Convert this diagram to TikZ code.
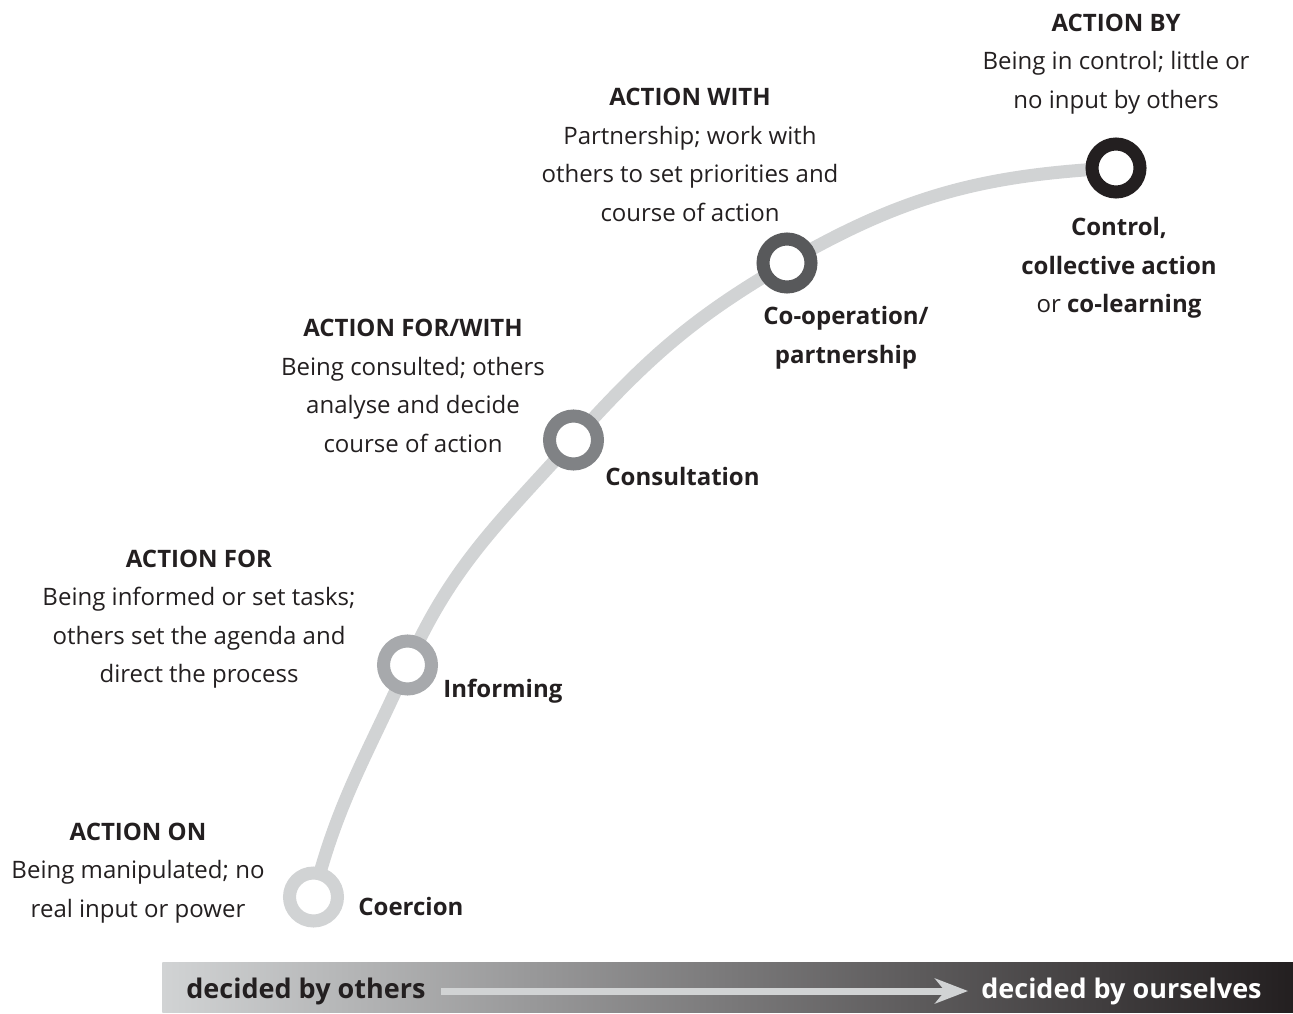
\documentclass[tikz,border=0pt]{standalone}
\usepackage{fontspec}
\setmainfont{Open Sans}
\usetikzlibrary{arrows.meta,backgrounds}
\definecolor{ink}{HTML}{231F20}
\definecolor{pale}{HTML}{D1D3D4}
\definecolor{greyA}{HTML}{A7A9AC}
\definecolor{greyB}{HTML}{808285}
\definecolor{greyC}{HTML}{58595B}
\tikzset{%
  ring/.style     = {circle, draw, line width=6.5pt, fill=white,%
                     minimum size=24pt, inner sep=0pt},%
  block/.style    = {align=center, text=ink, inner sep=0pt,%
                     font=\fontsize{12}{19.25}\selectfont},%
  stage/.style    = {block, font=\bfseries\fontsize{12}{19.25}\selectfont},%
  barlabel/.style = {inner sep=0pt, font=\bfseries\fontsize{13.5}{16}\selectfont}%
}

\begin{document}
\begin{tikzpicture}[x=0.5pt,y=0.5pt]%
	\useasboundingbox (0,0) rectangle (1293,1013);
	% the ladder rings
	\node (coercion)  at (313.5,116) [ring,draw=pale] {};
	\node (informing) at (407.5,348) [ring,draw=greyA] {};
	\node (consult)   at (573.5,573) [ring,draw=greyB] {};
	\node (coop)      at (787,750)   [ring,draw=greyC] {};
	\node (control)   at (1116,845)  [ring,draw=ink] {};
	\begin{scope}[on background layer]
		\draw [pale,line width=6.5pt] (coercion.center)
			to[out=76,in=246] (informing.center)
			to[out=66,in=228] (consult.center)
			to[out=48,in=210] (coop.center)
			to[out=30,in=183] (control.center);
	\end{scope}
	% labels next to the rings
	\node (coercion-l)  at (358,107) [stage,anchor=west] {Coercion};
	\node (informing-l) at (443,322) [stage,anchor=west] {Informing};
	\node (consult-l)   at (605,537) [stage,anchor=west] {Consultation};
	\node (coop-l)      at (846,675) [stage] {Co-operation/\\partnership};
	\node (control-l)   at (1119,745) [block] {\textbf{Control,}\\\textbf{collective action}\\or \textbf{co-learning}};
	% what each step means
	\node (on)      at (138,140)  [block] {\textbf{ACTION ON}\\Being manipulated; no\\real input or power};
	\node (for)     at (199,394)  [block] {\textbf{ACTION FOR}\\Being informed or set tasks;\\others set the agenda and\\direct the process};
	\node (forwith) at (413,627)  [block] {\textbf{ACTION FOR/WITH}\\Being consulted; others\\analyse and decide\\course of action};
	\node (with)    at (690,858)  [block] {\textbf{ACTION WITH}\\Partnership; work with\\others to set priorities and\\course of action};
	\node (by)      at (1116,949) [block] {\textbf{ACTION BY}\\Being in control; little or\\no input by others};
	% the bar along the bottom
	\node (bar) at (162,0) [anchor=south west, inner sep=0pt, minimum width=565.5pt, minimum height=25pt,%
		left color=pale, middle color=greyB, right color=ink] {};
	\node (others) at (186,22) [barlabel,anchor=west,text=ink] {decided by others};
	\node (ours) at (1262,22) [barlabel,anchor=east,text=white] {decided by ourselves};
	\draw [pale,line width=3.5pt,-{Stealth[length=16.5pt,width=12.5pt,inset=5pt]}]
		(others.east) ++(15,0) coordinate (arr-a) -- (968,22) coordinate (arr-b);
\end{tikzpicture}
\end{document}
